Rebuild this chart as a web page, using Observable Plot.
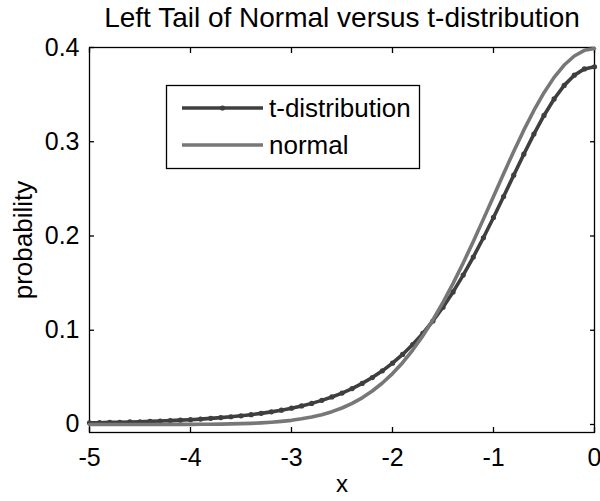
<!DOCTYPE html>
<html>
<head>
<meta charset="utf-8">
<script src="https://cdn.jsdelivr.net/npm/d3@7"></script>
<script src="https://cdn.jsdelivr.net/npm/@observablehq/plot@0.6"></script>
<style>
  body { margin: 0; background: #fff; }
  #chart { position: relative; width: 600px; height: 501px; }
  svg { font-family: "Liberation Sans", Arial, sans-serif; }
</style>
</head>
<body>
<div id="chart"></div>
<script>
// x grid shared by both densities, from -5 to 0 in steps of 0.1
const xs = [
  -5.0, -4.9, -4.8, -4.7, -4.6, -4.5, -4.4, -4.3, -4.2, -4.1,
  -4.0, -3.9, -3.8, -3.7, -3.6, -3.5, -3.4, -3.3, -3.2, -3.1,
  -3.0, -2.9, -2.8, -2.7, -2.6, -2.5, -2.4, -2.3, -2.2, -2.1,
  -2.0, -1.9, -1.8, -1.7, -1.6, -1.5, -1.4, -1.3, -1.2, -1.1,
  -1.0, -0.9, -0.8, -0.7, -0.6, -0.5, -0.4, -0.3, -0.2, -0.1, 0.0
];

// t-distribution density values
const tValues = [
  0.0018, 0.0019, 0.0022, 0.0024, 0.0027, 0.0029, 0.0033, 0.0037, 0.0041, 0.0046,
  0.0051, 0.0057, 0.0065, 0.0073, 0.0082, 0.0092, 0.0104, 0.0118, 0.0134, 0.0152,
  0.0173, 0.0197, 0.0224, 0.0256, 0.0292, 0.0333, 0.0381, 0.0436, 0.0498, 0.0569,
  0.0651, 0.0743, 0.0848, 0.0966, 0.1098, 0.1245, 0.1407, 0.1585, 0.1777, 0.1981,
  0.2197, 0.2419, 0.2645, 0.2868, 0.3081, 0.3279, 0.3454, 0.3598, 0.3706, 0.3773, 0.3796
];

// normal density values
const normalValues = [
  0.0000, 0.0000, 0.0000, 0.0000, 0.0000, 0.0000, 0.0000, 0.0000, 0.0001, 0.0001,
  0.0001, 0.0002, 0.0003, 0.0004, 0.0006, 0.0009, 0.0012, 0.0017, 0.0024, 0.0033,
  0.0044, 0.0060, 0.0079, 0.0104, 0.0136, 0.0175, 0.0224, 0.0283, 0.0355, 0.0440,
  0.0540, 0.0656, 0.0790, 0.0940, 0.1109, 0.1295, 0.1497, 0.1714, 0.1942, 0.2179,
  0.2420, 0.2661, 0.2897, 0.3123, 0.3332, 0.3521, 0.3683, 0.3814, 0.3910, 0.3970, 0.3989
];

const xTicks = [-5, -4, -3, -2, -1, 0];
const yTicks = [0, 0.1, 0.2, 0.3, 0.4];
const seriesNames = ["t-distribution", "normal"];

const tColor = "#3f3f3f";
const normalColor = "#777777";

const tData = xs.map((x, i) => ({x, y: tValues[i]}));
const normalData = xs.map((x, i) => ({x, y: normalValues[i]}));

const font = "Liberation Sans, Arial, sans-serif";

const plot = Plot.plot({
  width: 600,
  height: 501,
  marginLeft: 89,
  marginRight: 6,
  marginTop: 47,
  marginBottom: 69,
  style: {fontFamily: font, fontSize: "25px", background: "#fff", color: "#000"},
  x: {domain: [-5, 0]},
  y: {domain: [-0.0085, 0.4]},
  marks: [
    Plot.frame({stroke: "#000", strokeWidth: 1.3}),
    Plot.axisX({anchor: "bottom", ticks: xTicks, tickSize: -5, tickPadding: 21, tickFormat: d => String(d), label: null, fontSize: 25, strokeWidth: 1.3}),
    Plot.axisX({anchor: "top", ticks: xTicks, tickSize: -5, tickFormat: () => "", label: null, strokeWidth: 1.3}),
    Plot.axisY({anchor: "left", ticks: yTicks, tickSize: -5, tickPadding: 15, tickFormat: d => d === 0 ? "0" : d3.format(".1f")(d), label: null, fontSize: 25, strokeWidth: 1.3}),
    Plot.axisY({anchor: "right", ticks: yTicks, tickSize: -5, tickFormat: () => "", label: null, strokeWidth: 1.3}),
    Plot.line(tData, {x: "x", y: "y", stroke: tColor, strokeWidth: 3.6, clip: false}),
    Plot.dot(tData, {x: "x", y: "y", r: 2.6, fill: tColor, stroke: "none"}),
    Plot.line(normalData, {x: "x", y: "y", stroke: normalColor, strokeWidth: 3.6}),
    Plot.text(["Left Tail of Normal versus t-distribution"], {frameAnchor: "top", dy: -29, fontSize: 28, fill: "#000", lineAnchor: "middle", textAnchor: "middle"}),
    Plot.text(["x"], {frameAnchor: "bottom", dy: 52, fontSize: 24, fill: "#000", lineAnchor: "middle", textAnchor: "middle"}),
    Plot.text(["probability"], {frameAnchor: "left", dx: -66, rotate: -90, fontSize: 26, fill: "#000", lineAnchor: "middle", textAnchor: "middle"})
  ]
});

// Legend box in the upper-left area of the axes
const svg = d3.select(plot);
const legend = svg.append("g")
  .attr("font-family", font)
  .attr("font-size", 26)
  .attr("text-anchor", "start");
legend.append("rect")
  .attr("x", 166.5).attr("y", 85.5).attr("width", 253).attr("height", 83)
  .attr("fill", "#fff").attr("stroke", "#000").attr("stroke-width", 1.3);
const entries = [
  {name: seriesNames[0], color: tColor, marker: true, y: 108},
  {name: seriesNames[1], color: normalColor, marker: false, y: 145}
];
for (const e of entries) {
  legend.append("line")
    .attr("x1", 182).attr("x2", 263).attr("y1", e.y).attr("y2", e.y)
    .attr("stroke", e.color).attr("stroke-width", 3.6);
  if (e.marker) {
    legend.append("circle").attr("cx", 222.5).attr("cy", e.y).attr("r", 2.6).attr("fill", e.color);
  }
  legend.append("text")
    .attr("x", 269).attr("y", e.y).attr("dy", "0.35em")
    .attr("text-anchor", "start")
    .attr("fill", "#000").text(e.name);
}

document.getElementById("chart").appendChild(plot);
</script>
</body>
</html>
